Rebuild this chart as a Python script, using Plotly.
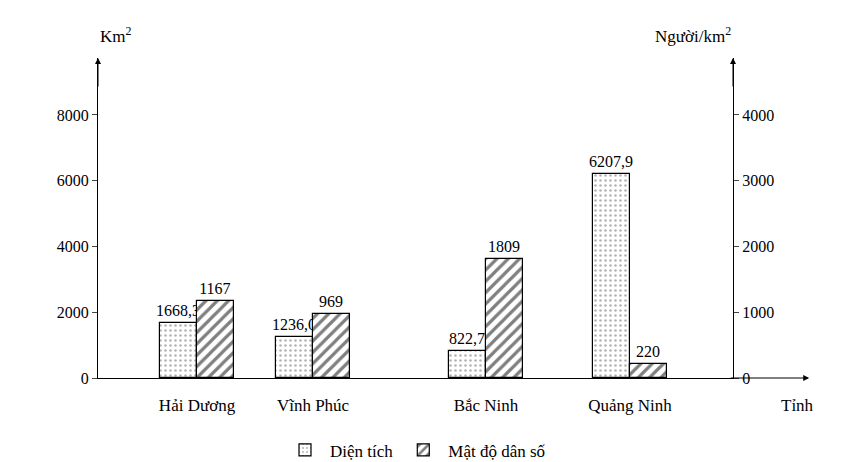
import plotly.graph_objects as go

provinces = ["Hải Dương", "Vĩnh Phúc", "Bắc Ninh", "Quảng Ninh"]
x_pos = [99, 215, 388, 532]
area = [1668.3, 1236.0, 822.7, 6207.9]
area_text = ["1668,3", "1236,0", "822,7", "6207,9"]
density = [1167, 969, 1809, 220]

font = dict(family="Liberation Serif", size=17, color="black")
tfont = dict(family="Liberation Serif", size=16, color="black")

fig = go.Figure()
fig.add_trace(go.Bar(
    x=x_pos, y=area, width=37, offset=-37, name="Diện tích",
    marker=dict(color="white", line=dict(color="black", width=1.2),
                pattern=dict(shape=".", fgcolor="#666", size=5, solidity=0.2)),
    text=area_text, textposition="outside", cliponaxis=False, textfont=tfont,
    constraintext="none",
))
fig.add_trace(go.Bar(
    x=x_pos, y=density, width=37, offset=0, name="Mật độ dân số", yaxis="y2",
    marker=dict(color="white", line=dict(color="black", width=1.2),
                pattern=dict(shape="/", fgcolor="black", size=8, solidity=0.4)),
    text=[str(v) for v in density], textposition="outside", cliponaxis=False, textfont=tfont,
    constraintext="none",
))

fig.update_layout(
    width=843, height=462, plot_bgcolor="white", paper_bgcolor="white",
    margin=dict(l=90, r=118, t=50, b=92, autoexpand=False), font=font, bargap=0,
    uniformtext=dict(mode=False),
    xaxis=dict(range=[0, 635], tickvals=x_pos, ticktext=provinces, showgrid=False,
               showline=True, linecolor="black", ticks="outside", ticklen=12,
               tickcolor="rgba(0,0,0,0)", zeroline=False, automargin=False, tickfont=font),
    yaxis=dict(range=[0, 9730], tickvals=[0, 2000, 4000, 6000, 8000], showgrid=False,
               showline=True, linecolor="black", ticks="outside", ticklen=5, zeroline=False,
               automargin=False, tickfont=tfont),
    yaxis2=dict(range=[0, 4865], tickvals=[0, 1000, 2000, 3000, 4000], overlaying="y",
                side="right", showgrid=False, showline=True, linecolor="black",
                ticks="outside", ticklen=5, zeroline=False, automargin=False, tickfont=tfont),
    legend=dict(orientation="h", x=0.5, xanchor="center", y=-0.17, yanchor="top",
                font=font, itemwidth=40),
    annotations=[
        dict(xref="paper", yref="paper", x=0, y=1.0, ax=0, ay=30, text="",
             showarrow=True, arrowhead=2, arrowsize=1.2, arrowcolor="black"),
        dict(xref="paper", yref="paper", x=1, y=1.0, ax=0, ay=30, text="",
             showarrow=True, arrowhead=2, arrowsize=1.2, arrowcolor="black"),
        dict(xref="paper", yref="paper", x=1.12, y=0, ax=-80, ay=0, text="",
             showarrow=True, arrowhead=2, arrowsize=1.2, arrowcolor="black"),
        dict(xref="paper", yref="paper", x=0, y=1.03, text="Km<sup>2</sup>",
             showarrow=False, yanchor="bottom", font=font),
        dict(xref="paper", yref="paper", x=1, y=1.03, text="Người/km<sup>2</sup>",
             showarrow=False, yanchor="bottom", font=font),
        dict(xref="paper", yref="paper", x=1.13, y=-0.05, text="Tỉnh",
             showarrow=False, yanchor="top", font=font),
    ],
)

fig.write_html("out.html")
